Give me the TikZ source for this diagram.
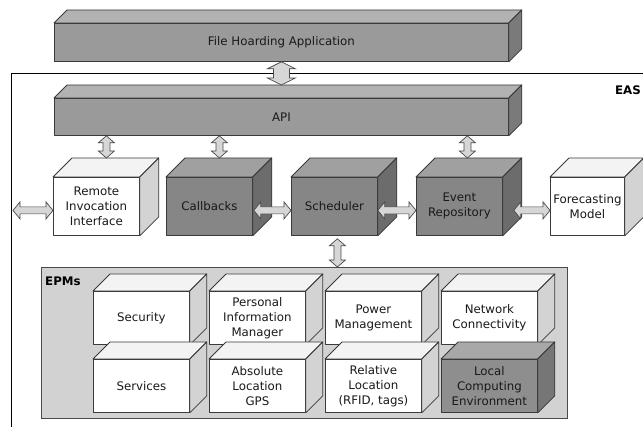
\documentclass[tikz,border=0pt]{standalone}
\usepackage{fontspec}
\setmainfont{DejaVu Sans}
\usetikzlibrary{calc}
\definecolor{edgec}{HTML}{3A3A3A}
\definecolor{barfront}{HTML}{9A9A9A}
\definecolor{bartop}{HTML}{B2B2B2}
\definecolor{barside}{HTML}{7A7A7A}
\definecolor{darkfront}{HTML}{868686}
\definecolor{darktop}{HTML}{A0A0A0}
\definecolor{darkside}{HTML}{6C6C6C}
\definecolor{whitefront}{HTML}{FFFFFF}
\definecolor{whitetop}{HTML}{F3F3F3}
\definecolor{whiteside}{HTML}{D3D3D3}
\definecolor{localfront}{HTML}{8E8E8E}
\definecolor{localtop}{HTML}{A8A8A8}
\definecolor{localside}{HTML}{767676}
\definecolor{epmfill}{HTML}{D2D2D2}
\definecolor{epmedge}{HTML}{4A4A4A}
\definecolor{arrfill}{HTML}{D6D6D6}
\definecolor{arredge}{HTML}{4A4A4A}
\tikzset{
  txt/.style={font=\fontsize{11.8}{15}\selectfont, align=center, text=black!90},
  face/.style={draw=edgec, line width=0.8pt, line join=round},
  frontface/.style={face, inner sep=0pt, anchor=north west, txt},
  fatarr/.style={draw=arredge, fill=arrfill, line width=0.7pt, line join=miter},
  boldlbl/.style={font=\fontsize{11.8}{14}\selectfont\bfseries, inner sep=0pt},
}
\newcommand\cube[8]{%
  \node[frontface, fill=#7front, minimum width=#4pt, minimum height=#5pt] (#1) at (#2,#3) {#8};
  \filldraw[face, fill=#7top] (#1.north west) -- ++(#6,-#6) -- ($(#1.north east)+(#6,-#6)$) -- (#1.north east) -- cycle;
  \filldraw[face, fill=#7side] (#1.north east) -- ++(#6,-#6) -- ($(#1.south east)+(#6,-#6)$) -- (#1.south east) -- cycle;
}
\newcommand\fatarrow[4]{%
  \path (#1) coordinate (faA) (#2) coordinate (faB);
  \path ($(faA)!7pt!(faB)$) coordinate (faA1) ($(faB)!7pt!(faA)$) coordinate (faB1);
  \draw[fatarr] (faA) -- ($(faA1)!#4!90:(faB)$) -- ($(faA1)!#3!90:(faB)$)
    -- ($(faB1)!#3!-90:(faA)$) -- ($(faB1)!#4!-90:(faA)$) -- (faB)
    -- ($(faB1)!#4!90:(faA)$) -- ($(faB1)!#3!90:(faA)$)
    -- ($(faA1)!#3!-90:(faB)$) -- ($(faA1)!#4!-90:(faB)$) -- cycle;
}
\begin{document}
\begin{tikzpicture}[x=1pt, y=-1pt]
\useasboundingbox (0,0) rectangle (643,427);
\clip (0,0) rectangle (643,427);
\fill[white] (0,0) rectangle (643,427);
\draw[black, line width=0.9pt] (11,73) rectangle (680,460);
% bars
\cube{fh}{54}{23}{454}{38}{13}{bar}{File Hoarding Application}
\cube{api}{54}{98}{454}{37}{13}{bar}{API}
\node[boldlbl] (eas) at (628,90) {EAS};
% middle row
\cube{remote}{53}{177}{86}{58}{19}{white}{Remote\\Invocation\\Interface}
\cube{callbacks}{166}{177}{86}{58}{19}{dark}{Callbacks}
\cube{scheduler}{291}{177}{86}{58}{19}{dark}{Scheduler}
\cube{event}{416}{177}{86}{58}{19}{dark}{Event\\Repository}
\cube{forecast}{550}{177}{74}{58}{19}{white}{Forecasting\\Model}
% EPMs
\node[draw=epmedge, fill=epmfill, line width=0.8pt, minimum width=526pt, minimum height=151pt, anchor=north west, inner sep=0pt] (epms) at (41,267) {};
\node[boldlbl, anchor=west] (epmslbl) at (45,281) {EPMs};
\cube{security}{93}{291}{96}{53}{17}{white}{Security}
\cube{pim}{209}{291}{96}{53}{17}{white}{Personal\\Information\\Manager}
\cube{power}{325}{291}{96}{53}{17}{white}{Power\\Management}
\cube{network}{441}{291}{96}{53}{17}{white}{Network\\Connectivity}
\cube{services}{93}{359}{96}{53}{17}{white}{Services}
\cube{absloc}{209}{359}{96}{53}{17}{white}{Absolute\\Location\\GPS}
\cube{relloc}{325}{359}{96}{53}{17}{white}{Relative\\Location\\(RFID, tags)}
\cube{local}{441}{359}{96}{53}{17}{local}{Local\\Computing\\Environment}
% connector points
\coordinate (remtop) at ($(remote.north)+(10,-19)$);
\coordinate (cbtop) at ($(callbacks.north)+(10,-19)$);
\coordinate (evtop) at ($(event.north)+(8,-19)$);
\coordinate (leftend) at ($(remote.west)+(-40,4)$);
\coordinate (remw) at ($(remote.west)+(0,4)$);
\coordinate (cbe) at ($(callbacks.east)+(1,4)$);
\coordinate (schw) at ($(scheduler.west)+(0,4)$);
\coordinate (sche) at ($(scheduler.east)+(0,4)$);
\coordinate (evw) at ($(event.west)+(0,4)$);
\coordinate (eve) at ($(event.east)+(11,4)$);
\coordinate (fcw) at ($(forecast.west)+(0,4)$);
\coordinate (schbot) at ($(scheduler.south)+(3,3)$);
% connectors
\fatarrow{fh.south}{$(api.north)+(0,-13)$}{8pt}{14pt}
\fatarrow{api.south -| remtop}{remtop}{3.5pt}{8pt}
\fatarrow{api.south -| cbtop}{cbtop}{3.5pt}{8pt}
\fatarrow{api.south -| evtop}{evtop}{3.5pt}{8pt}
\fatarrow{leftend}{remw}{3.5pt}{8.5pt}
\fatarrow{cbe}{schw}{3.5pt}{8.5pt}
\fatarrow{sche}{evw}{3.5pt}{8.5pt}
\fatarrow{eve}{fcw}{3.5pt}{8.5pt}
\fatarrow{schbot}{epms.north -| schbot}{3.5pt}{8pt}
\end{tikzpicture}
\end{document}
